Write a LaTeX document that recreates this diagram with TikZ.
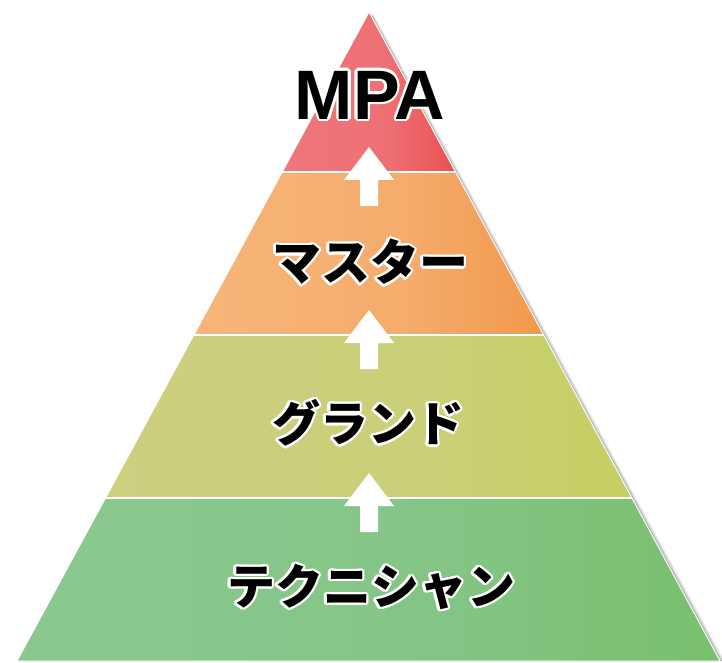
\documentclass[tikz,border=0pt]{standalone}
\usepackage{fontspec}
\setmainfont{Liberation Sans}
\newfontfamily\cjk{Noto Sans CJK JP}
\usetikzlibrary{calc}
\definecolor{rA}{HTML}{EF7C80}\definecolor{rB}{HTML}{EE7074}\definecolor{rC}{HTML}{E52A2A}
\definecolor{oA}{HTML}{F7BC84}\definecolor{oB}{HTML}{F5AC6C}\definecolor{oC}{HTML}{EE8026}
\definecolor{yA}{HTML}{CED086}\definecolor{yB}{HTML}{CACF78}\definecolor{yC}{HTML}{BFCF42}
\definecolor{gA}{HTML}{92CB98}\definecolor{gB}{HTML}{84C586}\definecolor{gC}{HTML}{6BB94E}
\pgfdeclarehorizontalshading{redband}{100bp}{color(0bp)=(rA); color(55bp)=(rB); color(100bp)=(rC)}
\pgfdeclarehorizontalshading{orangeband}{100bp}{color(0bp)=(oA); color(55bp)=(oB); color(100bp)=(oC)}
\pgfdeclarehorizontalshading{yellowband}{100bp}{color(0bp)=(yA); color(55bp)=(yB); color(100bp)=(yC)}
\pgfdeclarehorizontalshading{greenband}{100bp}{color(0bp)=(gA); color(55bp)=(gB); color(100bp)=(gC)}
% text with a white halo, set as one box
\newcommand{\halotext}[1]{%
  \leavevmode
  \foreach \a in {0,22.5,...,337.5}{%
    \pgfmathsetlengthmacro\hdx{2.4pt*cos(\a)}%
    \pgfmathsetlengthmacro\hdy{2.4pt*sin(\a)}%
    \rlap{\kern\hdx\raisebox{\hdy}{\textcolor{white}{#1}}}}%
  \textcolor{black}{#1}}
\newcommand{\uparrowshape}[1]{%
  \fill[white] (369,#1) -- ++(25,33) -- ++(-16,0) -- ++(0,26) -- ++(-18,0) -- ++(0,-26) -- ++(-16,0) -- cycle;
}
\begin{document}
\begin{tikzpicture}[x=1pt,y=-1pt,
  labeltext/.style={inner sep=0pt},
  sep/.style={white,line width=2.6pt}]
\useasboundingbox (0,0) rectangle (722,663);
% shadow
\foreach \o/\op in {5/0.06,3.5/0.1,2/0.14}{
  \fill[black,opacity=\op] (369+\o,12+\o*0.5) -- (720+\o,661) -- (17+\o,661) -- cycle;
}
% coordinates
\coordinate (apex) at (369,12);
\coordinate (l1) at (282.3,172); \coordinate (r1) at (455.7,172);
\coordinate (l2) at (194,335);   \coordinate (r2) at (544,335);
\coordinate (l3) at (106,498);   \coordinate (r3) at (632,498);
\coordinate (bl) at (17,661);    \coordinate (br) at (720,661);
% bands
\shade[shading=redband] (apex) -- (r1) -- (l1) -- cycle;
\shade[shading=orangeband] (l1) -- (r1) -- (r2) -- (l2) -- cycle;
\shade[shading=yellowband] (l2) -- (r2) -- (r3) -- (l3) -- cycle;
\shade[shading=greenband] (l3) -- (r3) -- (br) -- (bl) -- cycle;
% separators and edge
\draw[sep] (l1) -- (r1);
\draw[sep] (l2) -- (r2);
\draw[sep] (l3) -- (r3);
\draw[white,line width=0.9pt,line join=round] (apex) -- (br) -- (bl) -- cycle;
% arrows
\uparrowshape{147}
\uparrowshape{310}
\uparrowshape{473}
% labels
\node[labeltext,font=\fontsize{70}{70}\selectfont\bfseries] (mpa) at (370,95) {\halotext{MPA}};
\node[labeltext,font=\cjk\fontsize{49}{49}\selectfont\bfseries] (master) at (370,262) {\halotext{マスター}};
\node[labeltext,font=\cjk\fontsize{48}{48}\selectfont\bfseries] (grand) at (368,423) {\halotext{グランド}};
\node[labeltext,font=\cjk\fontsize{48}{48}\selectfont\bfseries] (tech) at (371,587) {\halotext{テクニシャン}};
\end{tikzpicture}
\end{document}
